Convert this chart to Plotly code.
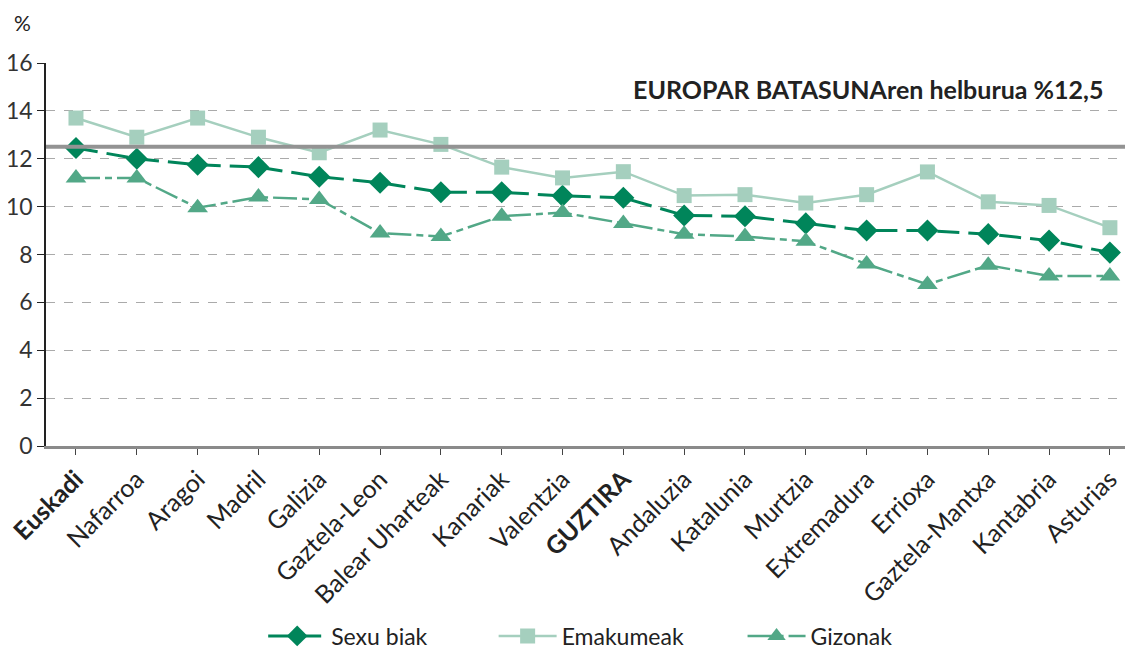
import plotly.graph_objects as go

categories = ["<b>Euskadi</b>", "Nafarroa", "Aragoi", "Madril", "Galizia", "Gaztela-Leon",
              "Balear Uharteak", "Kanariak", "Valentzia", "<b>GUZTIRA</b>", "Andaluzia",
              "Katalunia", "Murtzia", "Extremadura", "Errioxa", "Gaztela-Mantxa",
              "Kantabria", "Asturias"]
sexu_biak = [12.45, 12.0, 11.75, 11.65, 11.25, 11.0, 10.6, 10.6, 10.45, 10.37, 9.63,
             9.6, 9.3, 9.0, 9.0, 8.85, 8.58, 8.08]
emakumeak = [13.7, 12.9, 13.7, 12.9, 12.25, 13.2, 12.6, 11.65, 11.2, 11.46, 10.46,
             10.5, 10.15, 10.5, 11.45, 10.2, 10.05, 9.12]
gizonak = [11.2, 11.2, 9.95, 10.4, 10.3, 8.9, 8.75, 9.6, 9.75, 9.3, 8.85,
           8.75, 8.55, 7.6, 6.75, 7.55, 7.1, 7.1]
target = 12.5
yticks = [0, 2, 4, 6, 8, 10, 12, 14, 16]

FONT = "Lato"
x = list(range(len(categories)))

fig = go.Figure()
fig.add_trace(go.Scatter(
    x=x, y=sexu_biak, name="Sexu biak", mode="lines+markers", legend="legend",
    showlegend=True,
    line=dict(color="#00855a", width=3, dash="22px,9px"),
    marker=dict(symbol="diamond", size=17, color="#00855a")))
fig.add_trace(go.Scatter(
    x=x, y=emakumeak, name="Emakumeak", mode="lines+markers", legend="legend2",
    showlegend=True,
    line=dict(color="#a5cfbe", width=2.5),
    marker=dict(symbol="square", size=15, color="#a5cfbe")))
fig.add_trace(go.Scatter(
    x=x, y=gizonak, name="Gizonak", mode="lines+markers", legend="legend3",
    showlegend=True,
    line=dict(color="#52a887", width=2.5, dash="24px,5px,7px,5px"),
    marker=dict(symbol="triangle-up", size=18, color="#52a887")))

fig.add_hline(y=target, line=dict(color="#939393", width=4), layer="above")

leg = dict(orientation="h", y=-0.496, yanchor="middle", xanchor="left", visible=True,
           font=dict(family=FONT, size=23, color="#222"), itemwidth=58,
           bgcolor="rgba(0,0,0,0)")

fig.update_layout(
    width=1133, height=648, showlegend=True,
    margin=dict(l=38, r=8, t=55, b=210, autoexpand=False),
    paper_bgcolor="white", plot_bgcolor="white",
    font=dict(family=FONT, size=22, color="#222"),
    legend=dict(leg, x=0.1998),
    legend2=dict(leg, x=0.4118),
    legend3=dict(leg, x=0.6408),
    annotations=[
        dict(text="%", xref="paper", yref="paper", x=-0.022, y=1.107, xanchor="center",
             yanchor="middle", showarrow=False, font=dict(size=21, color="#222")),
        dict(text="<b>EUROPAR BATASUNAren helburua %12,5</b>", xref="paper", yref="y",
             x=0.974, y=14.92, xanchor="right", yanchor="middle", showarrow=False,
             font=dict(size=25, color="#222")),
    ],
)
fig.update_xaxes(
    range=[-0.493, 17.38], tickmode="array", tickvals=x, ticktext=categories,
    tickangle=-45, showgrid=False, showline=True, linecolor="#8a8a8a", linewidth=2.5,
    ticks="outside", ticklen=6, tickcolor="#444", tickson="boundaries",
    ticklabeloverflow="allow",
    tickfont=dict(size=25, color="#222"), zeroline=False, automargin=False)
fig.update_yaxes(
    range=[0, 16], tickmode="array", tickvals=yticks, showgrid=True,
    gridcolor="#aaaaaa", griddash="dash", gridwidth=1, showline=True,
    linecolor="#222", linewidth=1.5, ticks="outside", ticklen=7, tickcolor="#222",
    ticklabeloverflow="allow",
    tickfont=dict(size=23, color="#333"), zeroline=False, automargin=False)

fig.write_html("out.html")
